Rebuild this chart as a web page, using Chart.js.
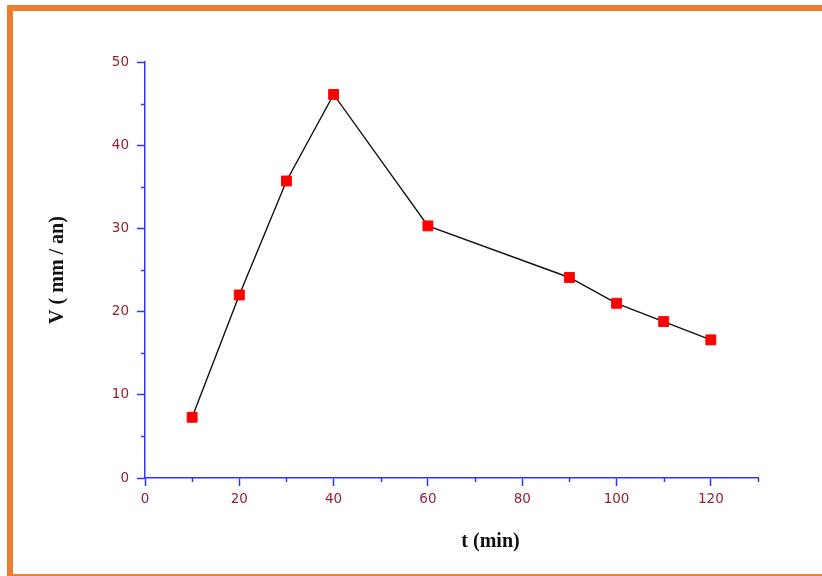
<!DOCTYPE html>
<html>
<head>
<meta charset="utf-8">
<script src="https://cdn.jsdelivr.net/npm/chart.js@4/dist/chart.umd.min.js"></script>
<style>
  html, body { margin: 0; padding: 0; background: #ffffff; }
  #c { display: block; }
</style>
</head>
<body>
<canvas id="c" width="822" height="576"></canvas>
<script>
// ---- data ----
const tValues = [10, 20, 30, 40, 60, 90, 100, 110, 120];      // t (min)
const vValues = [7.3, 22.0, 35.7, 46.1, 30.3, 24.1, 21.0, 18.8, 16.6]; // V (mm / an)
const xAxisMin = 0, xAxisMax = 130, xStep = 10, xLabelEvery = 20;
const yAxisMin = 0, yAxisMax = 50, yStep = 5, yLabelEvery = 10;
const xTitle = 't (min)';
const yTitle = 'V ( mm / an)';

// ---- styles ----
const AXIS_BLUE = '#3333ff';
const LABEL_RED = '#962030';
const ORANGE = '#ed7d31';
const TRANSPARENT = 'rgba(0,0,0,0)';

const points = tValues.map((t, i) => ({ x: t, y: vValues[i] }));

const framePlugin = {
  id: 'frame',
  beforeDraw(chart) {
    const ctx = chart.ctx;
    ctx.save();
    ctx.fillStyle = '#ffffff';
    ctx.fillRect(0, 0, chart.width, chart.height);
    ctx.fillStyle = ORANGE;
    ctx.fillRect(7, 5, chart.width - 7, 6);   // top band
    ctx.fillRect(7, 5, 6, chart.height - 5);  // left band
    ctx.fillRect(7, 574, chart.width - 7, 2); // bottom line
    ctx.restore();
  }
};

const minorTickPlugin = {
  id: 'minorTicks',
  afterDraw(chart) {
    const ctx = chart.ctx;
    const xs = chart.scales.x, ys = chart.scales.y;
    ctx.save();
    ctx.strokeStyle = AXIS_BLUE;
    ctx.lineWidth = 1.5;
    ctx.beginPath();
    xs.ticks.forEach(tk => {
      if (tk.value % xLabelEvery !== 0) {
        const px = Math.round(xs.getPixelForValue(tk.value)) + 0.5;
        ctx.moveTo(px, xs.top);
        ctx.lineTo(px, xs.top + 4);
      }
    });
    ys.ticks.forEach(tk => {
      if (tk.value % yLabelEvery !== 0) {
        const py = Math.round(ys.getPixelForValue(tk.value)) + 0.5;
        ctx.moveTo(ys.right - 4, py);
        ctx.lineTo(ys.right, py);
      }
    });
    ctx.stroke();
    // x axis title
    ctx.fillStyle = '#111111';
    ctx.font = 'bold 20px "Liberation Serif", "Times New Roman", serif';
    ctx.textAlign = 'center';
    ctx.textBaseline = 'middle';
    const cx = (chart.chartArea.left + chart.chartArea.right) / 2 + 39;
    ctx.fillText(xTitle, cx, 542);
    ctx.restore();
  }
};

new Chart(document.getElementById('c'), {
  type: 'line',
  data: {
    datasets: [{
      data: points,
      borderColor: '#111111',
      borderWidth: 1.4,
      pointStyle: 'rect',
      pointRadius: 7,
      pointHoverRadius: 7,
      pointBackgroundColor: '#ff0000',
      pointBorderColor: '#ff0000',
      pointBorderWidth: 1,
      tension: 0,
      fill: false
    }]
  },
  options: {
    responsive: false,
    devicePixelRatio: 1,
    animation: false,
    events: [],
    layout: { padding: { left: 0, top: 62, right: 64, bottom: 0 } },
    plugins: {
      legend: { display: false },
      tooltip: { enabled: false },
      title: { display: false }
    },
    scales: {
      x: {
        type: 'linear',
        min: xAxisMin, max: xAxisMax,
        afterFit(scale) { scale.height = 576 - 478; },
        border: { display: true, color: AXIS_BLUE, width: 1.5 },
        grid: {
          drawOnChartArea: false,
          drawTicks: true,
          tickLength: 8,
          tickWidth: 1.5,
          color: ctx => (ctx.tick && ctx.tick.value % xLabelEvery === 0) ? AXIS_BLUE : TRANSPARENT
        },
        ticks: {
          stepSize: xStep,
          padding: 5,
          color: LABEL_RED,
          font: { family: '"DejaVu Sans", Arial, sans-serif', size: 13.5 },
          maxRotation: 0,
          autoSkip: false,
          callback: v => (v % xLabelEvery === 0 && v <= 120) ? String(v) : ''
        },
        title: { display: false }
      },
      y: {
        type: 'linear',
        min: yAxisMin, max: yAxisMax,
        afterFit(scale) { scale.width = 145; },
        border: { display: true, color: AXIS_BLUE, width: 1.5 },
        grid: {
          drawOnChartArea: false,
          drawTicks: true,
          tickLength: 8,
          tickWidth: 1.5,
          color: ctx => (ctx.tick && ctx.tick.value % yLabelEvery === 0) ? AXIS_BLUE : TRANSPARENT
        },
        ticks: {
          stepSize: yStep,
          padding: 8,
          color: LABEL_RED,
          font: { family: '"DejaVu Sans", Arial, sans-serif', size: 13.5 },
          autoSkip: false,
          callback: v => (v % yLabelEvery === 0) ? String(v) : ''
        },
        title: {
          display: true,
          text: yTitle,
          color: '#111111',
          font: { family: '"Liberation Serif", "Times New Roman", serif', size: 20, weight: 'bold' },
          padding: { top: 46, bottom: 0 }
        }
      }
    }
  },
  plugins: [framePlugin, minorTickPlugin]
});
</script>
</body>
</html>
